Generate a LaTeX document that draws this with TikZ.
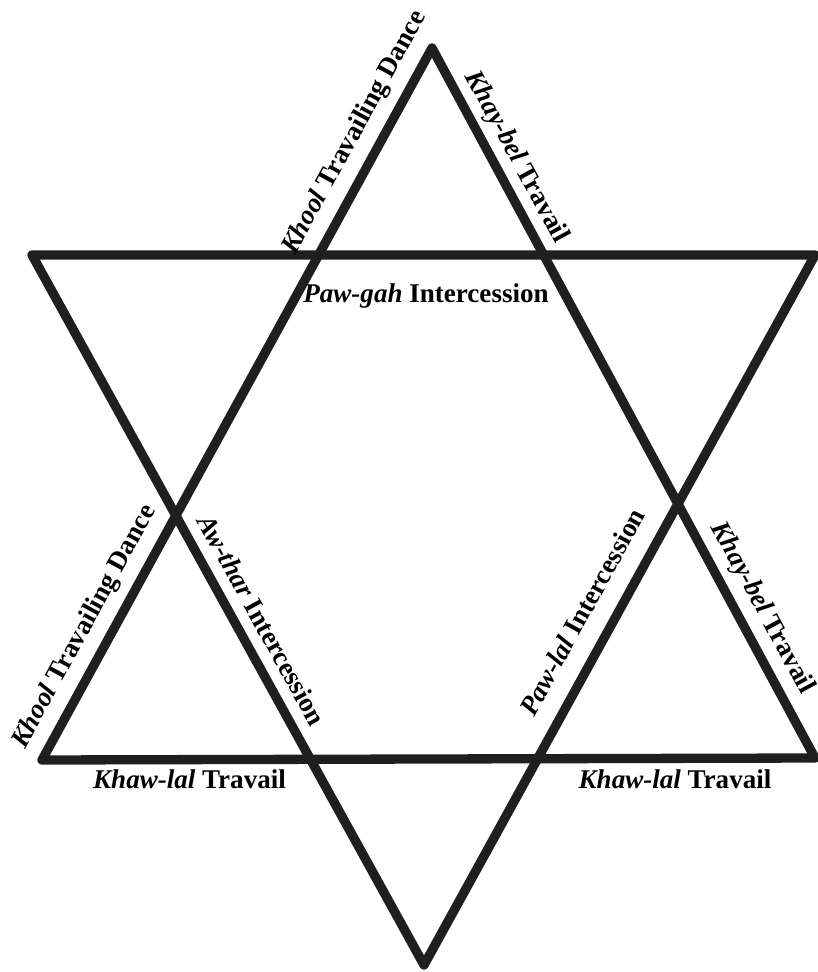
\documentclass[tikz,border=0pt]{standalone}
\usepackage{fontspec}
\setmainfont{Liberation Serif}
\begin{document}
\begin{tikzpicture}[x=0.02cm,y=-0.02cm,
  edge/.style={line width=5.3pt, line join=round, draw=black!88},
  lbl/.style={font=\fontsize{15.4}{18}\selectfont\bfseries, inner sep=0pt, text=black}]
\useasboundingbox (0,0) rectangle (817,972);
% upward triangle
\coordinate (UA) at (432,48);
\coordinate (UBL) at (42,760);
\coordinate (UBR) at (815,758);
% downward triangle
\coordinate (DTL) at (32,255);
\coordinate (DTR) at (815,255);
\coordinate (DB) at (424,965);
\draw[edge] (UA) -- (UBL) -- (UBR) -- cycle;
\draw[edge] (DTL) -- (DTR) -- (DB) -- cycle;
% labels
\node[lbl, rotate=61.3] (khoolA) at (355,133) {\textit{Khool} Travailing Dance};
\node[lbl, rotate=61.3] (khoolB) at (85,627) {\textit{Khool} Travailing Dance};
\node[lbl, rotate=-61.6] (khayA) at (516,157) {\textit{Khay-bel} Travail};
\node[lbl, rotate=-61.6] (khayB) at (762,608) {\textit{Khay-bel} Travail};
\node[lbl, rotate=-61.1] (awthar) at (262,620) {\textit{Aw-thar} Intercession};
\node[lbl, rotate=61.2] (pawlal) at (582,612) {\textit{Paw-lal} Intercession};
\node[lbl] (pawgah) at (426,296) {\textit{Paw-gah} Intercession};
\node[lbl] (khawA) at (189.5,779) {\textit{Khaw-lal} Travail};
\node[lbl] (khawB) at (675,779) {\textit{Khaw-lal} Travail};
\end{tikzpicture}
\end{document}
